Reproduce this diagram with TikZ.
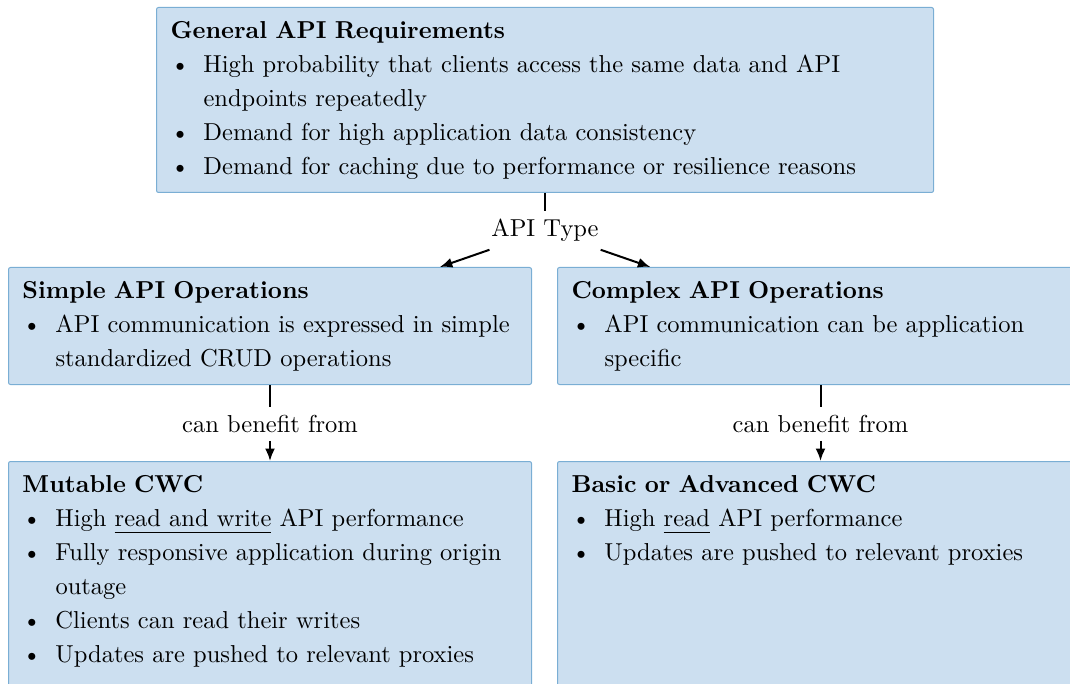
\documentclass[tikz,border=0pt]{standalone}
\usetikzlibrary{arrows.meta}
\definecolor{boxfill}{RGB}{204,223,240}
\definecolor{boxline}{RGB}{122,174,212}
% no hyphenation in the boxes
\hyphenpenalty=10000
\exhyphenpenalty=10000
% bullet item with hanging indent for wrapped lines
\newcommand{\bitem}[1]{\par\noindent\hangindent=13.2pt\hangafter=1\makebox[13.2pt][l]{\hspace{0pt}\textbullet}#1\par}
\newcommand{\topstrut}{\rule{0pt}{12.4pt}}
\newcommand{\botstrut}[1][7.2pt]{\rule[-#1]{0pt}{#1}}
% underline set a little lower than the default
\newcommand{\lowul}[1]{\underline{#1\rule[-1pt]{0pt}{1pt}}}

\begin{document}
\begin{tikzpicture}[x=0.4pt,y=-0.4pt,
  infobox/.style={draw=boxline, fill=boxfill, line width=0.4pt, rounded corners=0.8pt,
    anchor=north west, inner xsep=5.6pt, inner ysep=0pt, align=left,
    font=\fontsize{9.8}{13.6}\selectfont},
  edgelabel/.style={font=\fontsize{9.8}{13.6}\selectfont, inner sep=3pt},
  conn/.style={line width=0.8pt},
  arr/.style={conn, -{Latex[length=5pt,width=4pt]}}]

\path[use as bounding box, clip] (0,0) rectangle (1070,684);

% requirements
\node[infobox, text width=299.6pt] (gen) at (156,7) {%
\topstrut\textbf{General API Requirements}
\bitem{High probability that clients access the same data and API endpoints repeatedly}
\bitem{Demand for high application data consistency}
\bitem{Demand for caching due to performance or resilience reasons\botstrut}};

% API types
\node[infobox, text width=198pt] (simple) at (8,267) {%
\topstrut\textbf{Simple API Operations}
\bitem{API communication is expressed in simple standardized CRUD operations\botstrut}};

\node[infobox, text width=199.2pt] (complex) at (557,267) {%
\topstrut\textbf{Complex API Operations}
\bitem{API communication can be application specific\botstrut}};

% caching variants
\node[infobox, text width=198pt] (mutable) at (8,461) {%
\topstrut\textbf{Mutable CWC}
\bitem{High \lowul{read and write} API performance}
\bitem{Fully responsive application during origin outage}
\bitem{Clients can read their writes}
\bitem{Updates are pushed to relevant proxies\botstrut[20pt]}};

\node[infobox, text width=199.2pt] (basic) at (557,461) {%
\topstrut\textbf{Basic or Advanced CWC}
\bitem{High \lowul{read} API performance}
\bitem{Updates are pushed to relevant proxies\botstrut[70pt]}};

% connectors
\path (gen.south) ++(0,37.5) node[edgelabel] (type) {API Type};
\draw[conn] (gen.south) -- (type.north);
\draw[arr] (type) -- (simple);
\draw[arr] (type) -- (complex);

\path (simple.south) ++(0,39) node[edgelabel] (benefitL) {can benefit from};
\draw[conn] (simple.south) -- (benefitL.north);
\draw[arr] (benefitL.south) -- (mutable.north);

\path (complex.south) ++(0,39) node[edgelabel] (benefitR) {can benefit from};
\draw[conn] (complex.south) -- (benefitR.north);
\draw[arr] (benefitR.south) -- (basic.north);
\end{tikzpicture}
\end{document}
